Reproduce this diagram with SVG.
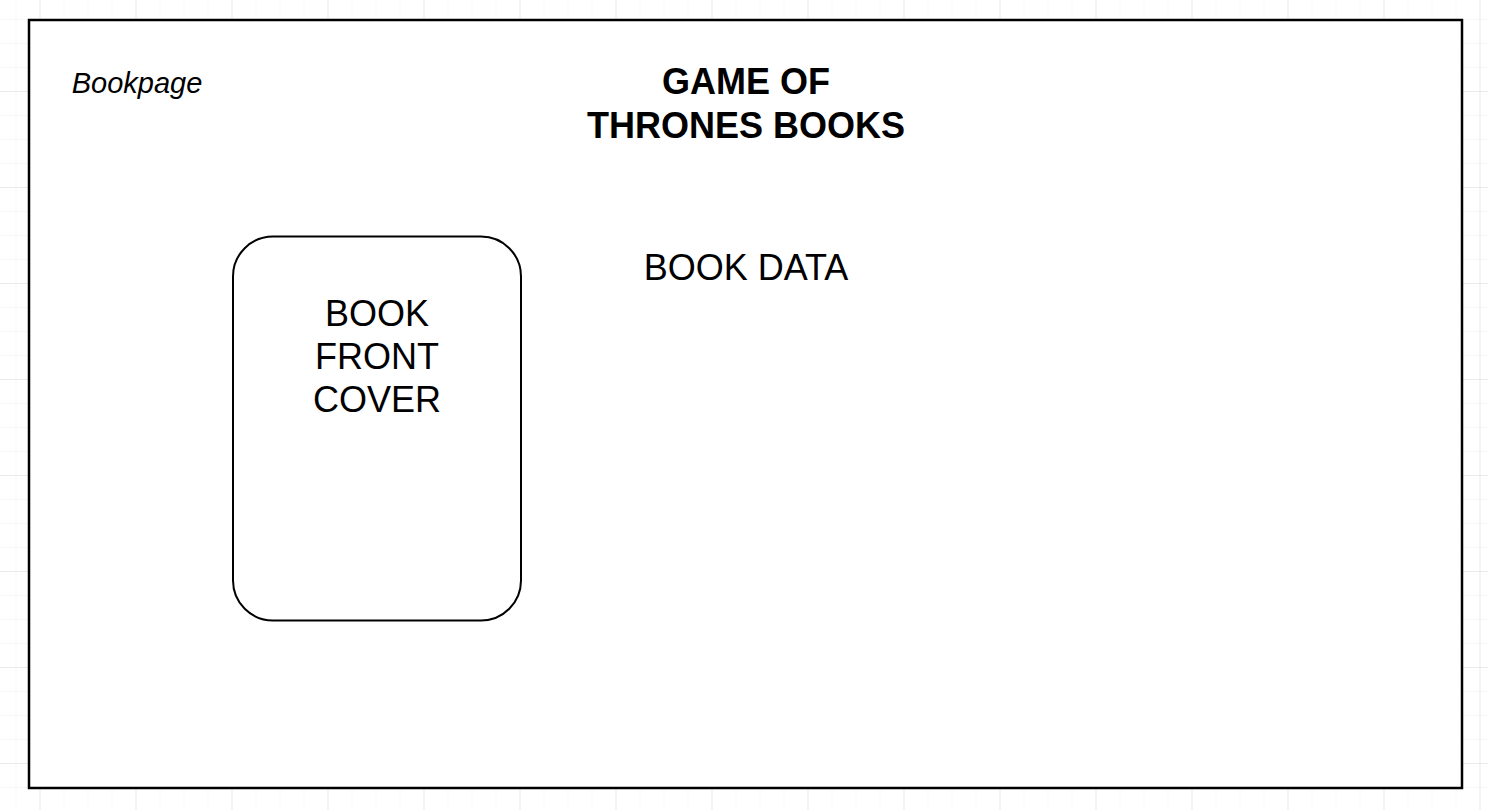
<svg xmlns="http://www.w3.org/2000/svg" width="1488" height="810" viewBox="0 0 1488 810">
  <defs>
    <pattern id="minor" x="15.5" y="19" width="24" height="24" patternUnits="userSpaceOnUse">
      <path d="M0 0 V24 M0 0 H24" fill="none" stroke="#f0f0f0" stroke-width="1"/>
    </pattern>
    <pattern id="major" x="39.5" y="-5" width="96" height="96" patternUnits="userSpaceOnUse">
      <path d="M0 0 V96 M0 0 H96" fill="none" stroke="#dedede" stroke-width="1"/>
    </pattern>
  </defs>
  <style>
    .t { font-family: "Liberation Sans", Arial, Helvetica, sans-serif; fill: #000; text-anchor: middle; }
  </style>
  <rect width="1488" height="810" fill="#ffffff"/>
  <rect width="1488" height="810" fill="url(#minor)"/>
  <rect width="1488" height="810" fill="url(#major)"/>
  <g id="bookpage">
    <rect x="29" y="20" width="1433" height="768" fill="#ffffff" stroke="#000" stroke-width="2.5"/>
    <text x="137" y="93" class="t" font-size="29" font-style="italic">Bookpage</text>
  </g>
  <g id="title">
    <text class="t" font-size="36" font-weight="bold"><tspan x="746" y="94">GAME OF</tspan><tspan x="746" y="138">THRONES BOOKS</tspan></text>
  </g>
  <g id="book-cover">
    <rect x="233" y="236.5" width="288" height="384" rx="40" ry="40" fill="#ffffff" stroke="#000" stroke-width="2"/>
    <text class="t" font-size="36"><tspan x="377" y="326">BOOK</tspan><tspan x="377" y="369">FRONT</tspan><tspan x="377" y="412">COVER</tspan></text>
  </g>
  <g id="book-data">
    <text x="746" y="280" class="t" font-size="36">BOOK DATA</text>
  </g>
  <g id="connectors"></g>
</svg>
